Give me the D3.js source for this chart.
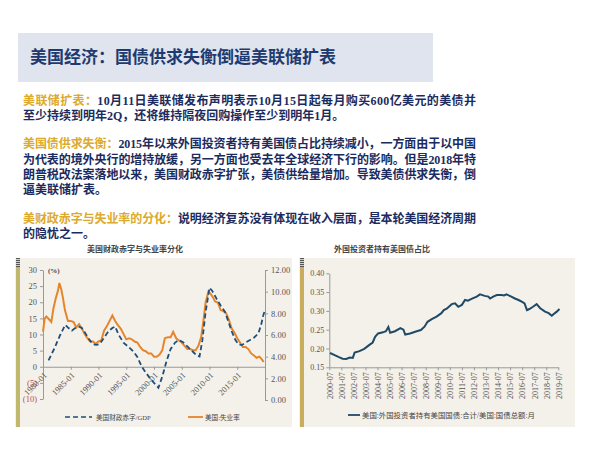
<!DOCTYPE html>
<html>
<head>
<meta charset="utf-8">
<script src="https://cdn.jsdelivr.net/npm/d3@7"></script>
<style>
  body { margin: 0; background: #fff; }
  text { font-family: "Liberation Serif", "Noto Sans CJK SC", serif; }
  .tick text { font-size: 8px; fill: #555; }
  .domain, .tick line { stroke: #999; }
</style>
</head>
<body>
<div id="chart"></div>
<script>
// Text content
const titleText = "美国经济：国债供求失衡倒逼美联储扩表";
const paragraphs = [
    { head: "美联储扩表：", lines: [
        "10月11日美联储发布声明表示10月15日起每月购买600亿美元的美债并",
        "至少持续到明年2Q，还将维持隔夜回购操作至少到明年1月。"] },
    { head: "美国债供求失衡：", lines: [
        "2015年以来外国投资者持有美国债占比持续减小，一方面由于以中国",
        "为代表的境外央行的增持放缓，另一方面也受去年全球经济下行的影响。但是2018年特",
        "朗普税改法案落地以来，美国财政赤字扩张，美债供给量增加。导致美债供求失衡，倒",
        "逼美联储扩表。"] },
    { head: "美财政赤字与失业率的分化：", lines: [
        "说明经济复苏没有体现在收入层面，是本轮美国经济周期",
        "的隐忧之一。"] }
];

// Left chart data: [year, value]
const leftTicksX = [1980, 1985, 1990, 1995, 2000, 2005, 2010, 2015];
const leftTicksY = [-10, -5, 0, 5, 10, 15, 20, 25, 30];
const rightTicksY = [0, 2, 4, 6, 8, 10, 12];
const deficitGdp = [
    [1981.0, 2], [1982.0, 5.5], [1983.0, 9.5], [1984.0, 13], [1984.6, 12], [1985.2, 11.2],
    [1985.8, 12], [1986.4, 12.5], [1987.0, 12], [1987.6, 10.5], [1988.3, 8.5], [1989.0, 7],
    [1989.6, 6.8], [1990.2, 7], [1991.0, 9], [1991.8, 11], [1992.5, 12], [1993.0, 12.5],
    [1993.6, 10], [1994.5, 7.5], [1995.5, 6], [1996.3, 4.7], [1997.0, 3], [1997.8, 0],
    [1998.6, -2], [1999.3, -3.6], [2000.0, -5], [2000.8, -6.5], [2001.5, -3], [2002.3, 2],
    [2003.0, 5.5], [2003.8, 7.5], [2004.5, 8.3], [2005.3, 7.5], [2006.2, 6], [2007.1, 4.5],
    [2007.7, 3.5], [2008.2, 3.2], [2008.7, 8], [2009.3, 17], [2010.0, 24.5], [2010.5, 23.5],
    [2011.3, 21], [2012.0, 19], [2012.8, 17], [2013.5, 13.5], [2014.0, 11], [2014.6, 8.5],
    [2015.2, 7], [2015.8, 6.7], [2016.5, 7.5], [2017.3, 8.3], [2018.0, 9], [2018.8, 10.3],
    [2019.3, 13], [2019.7, 16], [2020.0, 17.6]
];
const unemployment = [
    [1980.0, 6.3], [1980.3, 7.5], [1980.6, 7.7], [1981.0, 7.5], [1981.5, 7.2], [1981.9, 8.5],
    [1982.3, 9.4], [1982.7, 10.1], [1982.95, 10.8], [1983.3, 10.2], [1983.6, 9.4], [1983.95, 8.3],
    [1984.5, 7.3], [1985.0, 7.3], [1985.5, 7.2], [1986.0, 6.7], [1986.5, 7.0], [1987.0, 6.6],
    [1987.5, 6.1], [1988.0, 5.7], [1988.5, 5.4], [1989.0, 5.4], [1989.5, 5.2], [1990.0, 5.4],
    [1990.5, 5.5], [1991.0, 6.4], [1991.5, 6.8], [1992.0, 7.3], [1992.5, 7.8], [1993.0, 7.3],
    [1993.5, 6.9], [1994.0, 6.6], [1994.5, 6.1], [1995.0, 5.6], [1995.5, 5.7], [1996.0, 5.6],
    [1996.5, 5.4], [1997.0, 5.3], [1997.5, 4.9], [1998.0, 4.6], [1998.5, 4.5], [1999.0, 4.3],
    [1999.5, 4.3], [2000.0, 4.0], [2000.5, 4.0], [2001.0, 4.2], [2001.5, 4.6], [2001.95, 5.7],
    [2002.5, 5.8], [2003.0, 5.8], [2003.45, 6.3], [2004.0, 5.7], [2004.5, 5.5], [2005.0, 5.3],
    [2005.5, 5.0], [2006.0, 4.7], [2006.5, 4.7], [2007.0, 4.6], [2007.5, 4.6], [2008.0, 5.0],
    [2008.5, 5.8], [2008.9, 7.3], [2009.3, 9.0], [2009.8, 10.0], [2010.2, 9.8], [2010.6, 9.5],
    [2011.0, 9.1], [2011.5, 9.0], [2012.0, 8.3], [2012.5, 8.2], [2013.0, 8.0], [2013.5, 7.4],
    [2014.0, 6.6], [2014.5, 6.2], [2015.0, 5.7], [2015.5, 5.3], [2016.0, 4.9], [2016.5, 4.9],
    [2017.0, 4.7], [2017.5, 4.3], [2018.0, 4.1], [2018.5, 3.9], [2019.0, 4.0], [2019.5, 3.7],
    [2019.75, 3.5]
];

// Right chart data: [year, share]
const rightTicksX = d3.range(2000.5, 2020, 1);
const shareTicksY = [0.15, 0.20, 0.25, 0.30, 0.35, 0.40];
const foreignShare = [
    [2000.56, 0.188], [2000.9, 0.183], [2001.3, 0.177], [2001.6, 0.173], [2001.9, 0.172],
    [2002.2, 0.176], [2002.45, 0.175], [2002.6, 0.189], [2003.0, 0.193], [2003.4, 0.199],
    [2003.8, 0.209], [2004.1, 0.216], [2004.3, 0.231], [2004.55, 0.24], [2004.95, 0.243],
    [2005.2, 0.246], [2005.4, 0.257], [2005.55, 0.242], [2005.95, 0.246], [2006.4, 0.254],
    [2006.65, 0.25], [2006.8, 0.237], [2007.2, 0.24], [2007.75, 0.246], [2008.1, 0.249],
    [2008.4, 0.258], [2008.65, 0.271], [2009.0, 0.278], [2009.4, 0.285], [2009.8, 0.294],
    [2010.0, 0.302], [2010.24, 0.306], [2010.66, 0.318], [2010.93, 0.32], [2011.2, 0.311],
    [2011.5, 0.316], [2011.76, 0.329], [2012.0, 0.327], [2012.3, 0.332], [2012.73, 0.338],
    [2013.0, 0.344], [2013.4, 0.34], [2013.7, 0.338], [2013.84, 0.333], [2014.1, 0.338],
    [2014.4, 0.342], [2014.8, 0.342], [2015.0, 0.341], [2015.2, 0.344], [2015.6, 0.338],
    [2015.9, 0.333], [2016.2, 0.329], [2016.5, 0.324], [2016.7, 0.32], [2016.9, 0.302],
    [2017.1, 0.305], [2017.4, 0.311], [2017.7, 0.318], [2018.0, 0.307], [2018.4, 0.298],
    [2018.7, 0.294], [2018.96, 0.287], [2019.1, 0.291], [2019.37, 0.298], [2019.6, 0.305]
];

const svg = d3.select("#chart")
    .append("svg")
    .attr("width", 600)
    .attr("height", 456);

svg.append("rect").attr("width", 600).attr("height", 456).attr("fill", "#fff");

// Hatch pattern for the tops of the side bars
const defs = svg.append("defs");
const hatch = defs.append("pattern")
    .attr("id", "hatch")
    .attr("width", 4).attr("height", 2)
    .attr("patternUnits", "userSpaceOnUse");
hatch.append("rect").attr("width", 4).attr("height", 2).attr("fill", "#d8d0a0");
hatch.append("rect").attr("width", 4).attr("height", 1).attr("fill", "#555");

// Title box
svg.append("rect")
    .attr("x", 18).attr("y", 33)
    .attr("width", 415).attr("height", 49)
    .attr("fill", "#dfe4ee");

svg.append("text")
    .attr("x", 30).attr("y", 63)
    .style("font-size", "17px")
    .style("font-weight", "bold")
    .style("font-family", "'Noto Sans CJK SC', sans-serif")
    .attr("fill", "#1f3a6e")
    .text(titleText);

// Paragraphs
const paraStart = [104.6, 148.3, 222.6];
const lineStep = 15.3;
paragraphs.forEach((p, pi) => {
    p.lines.forEach((line, li) => {
        const t = svg.append("text")
            .attr("x", 23)
            .attr("y", paraStart[pi] + li * lineStep)
            .style("font-size", "12px")
            .style("font-weight", "bold")
            .attr("fill", "#1c2b5e");
        if (li === 0) {
            t.append("tspan").attr("fill", "#dcaa2c").text(p.head);
        }
        t.append("tspan").text(line);
        if (li < p.lines.length - 1) {
            t.attr("textLength", 453).attr("lengthAdjust", "spacing");
        }
    });
});

// Panels
function panel(x, w, barColor) {
    svg.append("rect")
        .attr("x", x).attr("y", 258)
        .attr("width", w).attr("height", 169)
        .attr("fill", "#f4f1ea");
    svg.append("rect")
        .attr("x", x + 1).attr("y", 258)
        .attr("width", 4).attr("height", 169)
        .attr("fill", barColor);
    svg.append("rect")
        .attr("x", x + 1).attr("y", 258)
        .attr("width", 4).attr("height", 9)
        .attr("fill", "url(#hatch)");
}
panel(15, 277, "#bfb86e");
panel(299, 276, "#c9ad5c");

// Chart titles
svg.append("text")
    .attr("x", 135).attr("y", 252)
    .attr("text-anchor", "middle")
    .style("font-size", "8px").style("font-weight", "bold")
    .attr("fill", "#444")
    .text("美国财政赤字与失业率分化");

svg.append("text")
    .attr("x", 382).attr("y", 252)
    .attr("text-anchor", "middle")
    .style("font-size", "8px").style("font-weight", "bold")
    .attr("fill", "#444")
    .text("外国投资者持有美国债占比");

// ---------- Left chart ----------
const xL = d3.scaleLinear().domain([1980, 2020]).range([43, 265]);
const yL = d3.scaleLinear().domain([-10, 30]).range([399, 270]);
const yR = d3.scaleLinear().domain([0, 12]).range([400, 270]);

const leftG = svg.append("g");

leftG.append("g")
    .attr("transform", "translate(43,0)")
    .call(d3.axisLeft(yL).tickValues(leftTicksY).tickSize(3).tickSizeOuter(0)
        .tickFormat(d => d < 0 ? `(${-d})` : d))
    .call(g => g.selectAll(".tick text")
        .attr("x", -6)
        .style("font-size", "8.5px")
        .style("fill", d => d < 0 ? "#b5505a" : "#555"));

leftG.append("g")
    .attr("transform", "translate(265,0)")
    .call(d3.axisRight(yR).tickValues(rightTicksY).tickSize(3).tickSizeOuter(0)
        .tickFormat(d3.format(".2f")))
    .call(g => g.selectAll(".tick text").attr("x", 6).style("font-size", "8.5px"));

leftG.append("g")
    .attr("transform", `translate(0,${yL(0)})`)
    .call(d3.axisBottom(xL).tickValues(leftTicksX).tickSize(3).tickSizeOuter(0)
        .tickFormat(d => d + "-01"))
    .call(g => g.selectAll(".tick text")
        .attr("x", 0).attr("y", 0).attr("dy", "0.35em")
        .attr("text-anchor", "end")
        .style("font-size", "8.5px")
        .attr("transform", "translate(2,7) rotate(-45)"));

leftG.append("text")
    .attr("x", 48).attr("y", 273)
    .style("font-size", "7px").style("font-weight", "bold")
    .attr("fill", "#444")
    .text("(%)");

leftG.append("path")
    .datum(unemployment)
    .attr("fill", "none")
    .attr("stroke", "#e5852c")
    .attr("stroke-width", 2)
    .attr("d", d3.line().x(d => xL(d[0])).y(d => yR(d[1])));

leftG.append("path")
    .datum(deficitGdp)
    .attr("fill", "none")
    .attr("stroke", "#1f4e79")
    .attr("stroke-width", 1.8)
    .attr("stroke-dasharray", "5,3")
    .attr("d", d3.line().x(d => xL(d[0])).y(d => yL(d[1])));

// Left legend
leftG.append("line")
    .attr("x1", 65).attr("x2", 92).attr("y1", 417).attr("y2", 417)
    .attr("stroke", "#1f4e79").attr("stroke-width", 1.6)
    .attr("stroke-dasharray", "5,3");
leftG.append("text")
    .attr("x", 96).attr("y", 419.5)
    .style("font-size", "6.6px").attr("fill", "#444")
    .text("美国财政赤字/GDP");
leftG.append("line")
    .attr("x1", 188).attr("x2", 203).attr("y1", 417).attr("y2", 417)
    .attr("stroke", "#e5852c").attr("stroke-width", 1.8);
leftG.append("text")
    .attr("x", 205).attr("y", 419.5)
    .style("font-size", "6.6px").attr("fill", "#444")
    .text("美国:失业率");

// ---------- Right chart ----------
const xR2 = d3.scaleLinear().domain([2000.5, 2019.5]).range([329.3, 558.3]);
const yR2 = d3.scaleLinear().domain([0.15, 0.40]).range([367.3, 273.3]);

const rightG = svg.append("g");

rightG.append("g")
    .attr("transform", "translate(329.3,0)")
    .call(d3.axisLeft(yR2).tickValues(shareTicksY).tickSize(3).tickSizeOuter(0)
        .tickFormat(d3.format(".2f")))
    .call(g => g.selectAll(".tick text").attr("x", -5));

rightG.append("g")
    .attr("transform", "translate(0,367.3)")
    .call(d3.axisBottom(xR2).tickValues(rightTicksX).tickSize(3).tickSizeOuter(0)
        .tickFormat(d => Math.floor(d) + "-07"))
    .call(g => g.selectAll(".tick text")
        .attr("x", 0).attr("y", 0).attr("dy", "0.35em")
        .attr("text-anchor", "end")
        .attr("transform", "translate(0,5) rotate(-90)"));

rightG.append("path")
    .datum(foreignShare)
    .attr("fill", "none")
    .attr("stroke", "#1f4a66")
    .attr("stroke-width", 2)
    .attr("d", d3.line().x(d => xR2(d[0])).y(d => yR2(d[1])));

rightG.append("line")
    .attr("x1", 348).attr("x2", 360).attr("y1", 415).attr("y2", 415)
    .attr("stroke", "#1f4a66").attr("stroke-width", 1.8);
rightG.append("text")
    .attr("x", 362).attr("y", 417.5)
    .style("font-size", "7.4px").attr("fill", "#444")
    .text("美国:外国投资者持有美国国债:合计/美国:国债总额:月");
</script>
</body>
</html>
